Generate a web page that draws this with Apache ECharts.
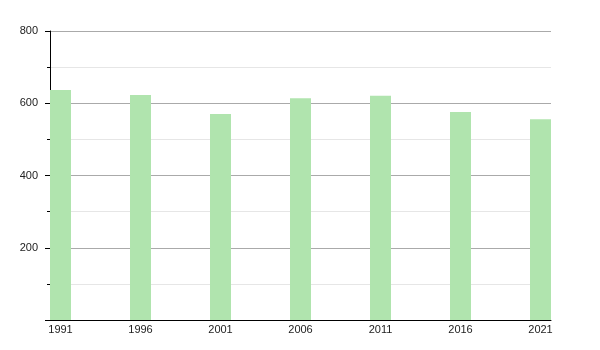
<!DOCTYPE html>
<html>
<head>
<meta charset="utf-8">
<script src="https://cdn.jsdelivr.net/npm/echarts@6/dist/echarts.min.js"></script>
<style>html,body{margin:0;padding:0;background:#fff;}#c{width:600px;height:350px;}</style>
</head>
<body>
<div id="c"></div>
<script>
var years = [1991, 1996, 2001, 2006, 2011, 2016, 2021];
var values = [637, 623, 570, 614, 621, 576, 556];
var yTicks = [200, 400, 600, 800];

var chart = echarts.init(document.getElementById('c'), null, {renderer: 'canvas'});
chart.setOption({
  animation: false,
  grid: {left: 50, right: 49, top: 31, bottom: 30, containLabel: false},
  xAxis: {
    type: 'value',
    min: 1990.34375,
    max: 2021.65625,
    axisLine: {show: true, onZero: false, lineStyle: {color: '#000', width: 1}},
    axisTick: {show: false},
    splitLine: {show: false},
    axisLabel: {
      customValues: years,
      color: '#222',
      fontFamily: 'Liberation Sans, Arial, sans-serif',
      fontSize: 11,
      margin: 4,
      formatter: function (v) { return String(v); }
    }
  },
  yAxis: {
    type: 'value',
    min: 0,
    max: 800,
    interval: 200,
    axisLine: {show: true, lineStyle: {color: '#000', width: 1}},
    axisTick: {show: true, length: 5, lineStyle: {color: '#000'}},
    minorTick: {show: true, splitNumber: 2, length: 3, lineStyle: {color: '#000'}},
    splitLine: {show: true, lineStyle: {color: '#aaaaaa', width: 1}},
    minorSplitLine: {show: true, lineStyle: {color: '#e6e6e6', width: 1}},
    axisLabel: {
      color: '#222',
      fontFamily: 'Liberation Sans, Arial, sans-serif',
      fontSize: 11,
      margin: 12,
      formatter: function (v) { return yTicks.indexOf(v) >= 0 ? String(v) : ''; }
    }
  },
  series: [{
    type: 'bar',
    data: years.map(function (y, i) { return [y, values[i]]; }),
    barWidth: 21,
    itemStyle: {color: '#b0e4ae'},
    z: 1
  }]
});
</script>
</body>
</html>
